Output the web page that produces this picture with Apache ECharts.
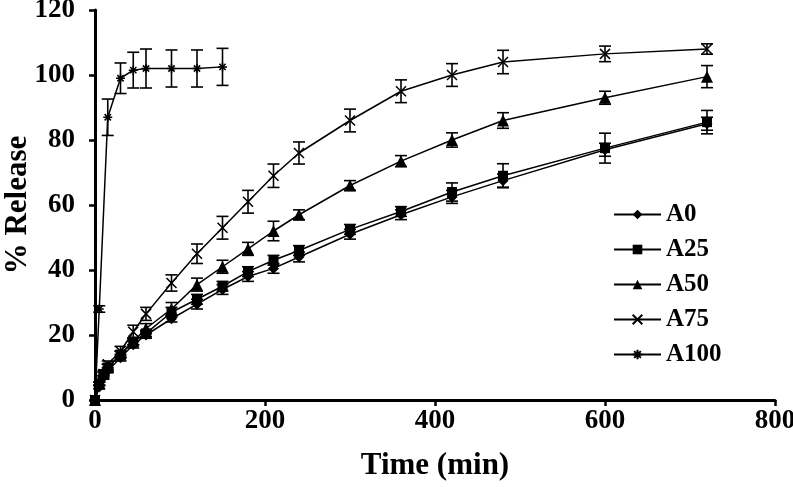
<!DOCTYPE html>
<html>
<head>
<meta charset="utf-8">
<script src="https://cdn.jsdelivr.net/npm/echarts@6/dist/echarts.min.js"></script>
<style>html,body{margin:0;padding:0;background:#fff}#c{width:793px;height:487px}</style>
</head>
<body>
<div id="c"></div>
<script>
var times = [0, 5, 10, 15, 30, 45, 60, 90, 120, 150, 180, 210, 240, 300, 360, 420, 480, 600, 720];
var A0 = [0, 4, 7, 9, 13, 17, 20, 25, 29.5, 34, 38, 40.5, 44, 51, 57, 62.5, 67.5, 77, 85];
var A0err = [0, 0.5, 0.5, 0.5, 1, 1, 1, 1, 1.5, 1.5, 1.5, 1.5, 1.5, 1.5, 1.5, 2, 2, 2, 2];
var A25 = [0, 5, 8, 10, 14, 18, 20.5, 27, 31, 35, 39.5, 43, 46, 52.5, 58, 64, 69, 77.5, 85.5];
var A25err = [0, 0.5, 0.5, 1, 1, 1, 1, 1.5, 1.5, 1.5, 1.5, 1.5, 1.5, 1.5, 1.5, 2.8, 3.7, 4.6, 3.6];
var A50 = [0, 5, 8, 10, 14, 18, 22, 28, 35.5, 41, 46.5, 52, 57, 66, 73.5, 80, 86, 93, 99.5];
var A50err = [0, 0.5, 0.5, 1, 1, 1, 1.5, 2, 2, 2, 2, 3, 1.5, 1.5, 1.7, 2.2, 2.4, 2, 3.4];
var A75 = [0, 5, 8, 11, 15, 21, 26.5, 36, 45, 53, 61, 69, 76, 86, 95, 100, 104, 106.5, 108];
var A75err = [0, 0.5, 1, 1, 1.5, 2, 2, 2.5, 3, 3.5, 3.5, 3.6, 3.4, 3.5, 3.5, 3.5, 3.6, 2.4, 1.6];
var timesA100 = [0, 5, 15, 30, 45, 60, 90, 120, 150];
var A100 = [0, 28, 87, 99, 101.5, 102, 102, 102, 102.5];
var A100err = [0, 1, 5.6, 4.7, 5.5, 6, 5.7, 5.7, 5.7];
var xTicks = [0, 200, 400, 600, 800];
var yTicks = [0, 20, 40, 60, 80, 100, 120];

var FONT = 'Liberation Serif';
function pairs(xs, ys) { return xs.map(function (x, i) { return [x, ys[i]]; }); }
function triples(xs, ys, es) { return xs.map(function (x, i) { return [x, ys[i], es[i]]; }); }

function errRender(params, api) {
  var x = api.value(0), y = api.value(1), e = api.value(2);
  if (!e) return null;
  var top = api.coord([x, y + e]);
  var bot = api.coord([x, y - e]);
  var cw = 6;
  var st = { stroke: '#000', lineWidth: 1.6 };
  return {
    type: 'group',
    children: [
      { type: 'line', shape: { x1: top[0], y1: top[1], x2: bot[0], y2: bot[1] }, style: st },
      { type: 'line', shape: { x1: top[0] - cw, y1: top[1], x2: top[0] + cw, y2: top[1] }, style: st },
      { type: 'line', shape: { x1: bot[0] - cw, y1: bot[1], x2: bot[0] + cw, y2: bot[1] }, style: st }
    ]
  };
}

var xPath = 'path://M0,0 L10,10 M10,0 L0,10';
var starPath = 'path://M0,5 L10,5 M5,0 L5,10 M1.5,1.5 L8.5,8.5 M8.5,1.5 L1.5,8.5';

function lineSeries(name, xs, ys, symbol, size, stroked) {
  return {
    name: name, type: 'line', data: pairs(xs, ys), symbol: symbol, symbolSize: size,
    showAllSymbol: true, z: 3,
    lineStyle: { color: '#000', width: 1.5 },
    itemStyle: stroked ? { color: 'rgba(0,0,0,0)', borderColor: '#000', borderWidth: 1.5 } : { color: '#000', borderWidth: 0 },
    emphasis: { disabled: true }
  };
}
function errSeries(name, xs, ys, es) {
  return { name: name, type: 'custom', renderItem: errRender, data: triples(xs, ys, es), z: 2, silent: true };
}

var chart = echarts.init(document.getElementById('c'), null, { renderer: 'canvas' });
chart.setOption({
  animation: false,
  backgroundColor: '#fff',
  grid: { left: 95, right: 18, top: 10, bottom: 87, containLabel: false, outerBoundsMode: 'none' },
  legend: {
    data: ['A0', 'A25', 'A50', 'A75', 'A100'],
    orient: 'vertical', left: 608, top: 197,
    itemWidth: 47, itemHeight: 12, itemGap: 10,
    textStyle: { fontFamily: FONT, fontWeight: 'bold', fontSize: 25, color: '#000' }
  },
  xAxis: {
    type: 'value', min: 0, max: 800, interval: 200,
    name: 'Time (min)', nameLocation: 'middle', nameGap: 50, nameMoveOverlap: false,
    nameTextStyle: { fontFamily: FONT, fontWeight: 'bold', fontSize: 31, color: '#000' },
    axisLine: { show: true, lineStyle: { color: '#000', width: 3 } },
    axisTick: { show: true, length: 6, lineStyle: { color: '#000', width: 2.5 } },
    axisLabel: { margin: 8, fontFamily: FONT, fontWeight: 'bold', fontSize: 27, color: '#000',
      formatter: function (v) { return xTicks.indexOf(v) >= 0 ? String(v) : ''; } },
    splitLine: { show: false }
  },
  yAxis: {
    type: 'value', min: 0, max: 120, interval: 20,
    name: '% Release', nameLocation: 'middle', nameGap: 62, nameMoveOverlap: false,
    nameTextStyle: { fontFamily: FONT, fontWeight: 'bold', fontSize: 31, color: '#000' },
    axisLine: { show: true, lineStyle: { color: '#000', width: 3 } },
    axisTick: { show: true, length: 6, lineStyle: { color: '#000', width: 2.5 } },
    axisLabel: { margin: 20, fontFamily: FONT, fontWeight: 'bold', fontSize: 27, color: '#000',
      formatter: function (v) { return yTicks.indexOf(v) >= 0 ? String(v) : ''; } },
    splitLine: { show: false }
  },
  series: [
    errSeries('eA0', times, A0, A0err),
    errSeries('eA25', times, A25, A25err),
    errSeries('eA50', times, A50, A50err),
    errSeries('eA75', times, A75, A75err),
    errSeries('eA100', timesA100, A100, A100err),
    lineSeries('A0', times, A0, 'diamond', 11, false),
    lineSeries('A25', times, A25, 'rect', 10, false),
    lineSeries('A50', times, A50, 'triangle', 12, false),
    lineSeries('A75', times, A75, xPath, 10, true),
    lineSeries('A100', timesA100, A100, starPath, 9, true)
  ]
});
</script>
</body>
</html>
